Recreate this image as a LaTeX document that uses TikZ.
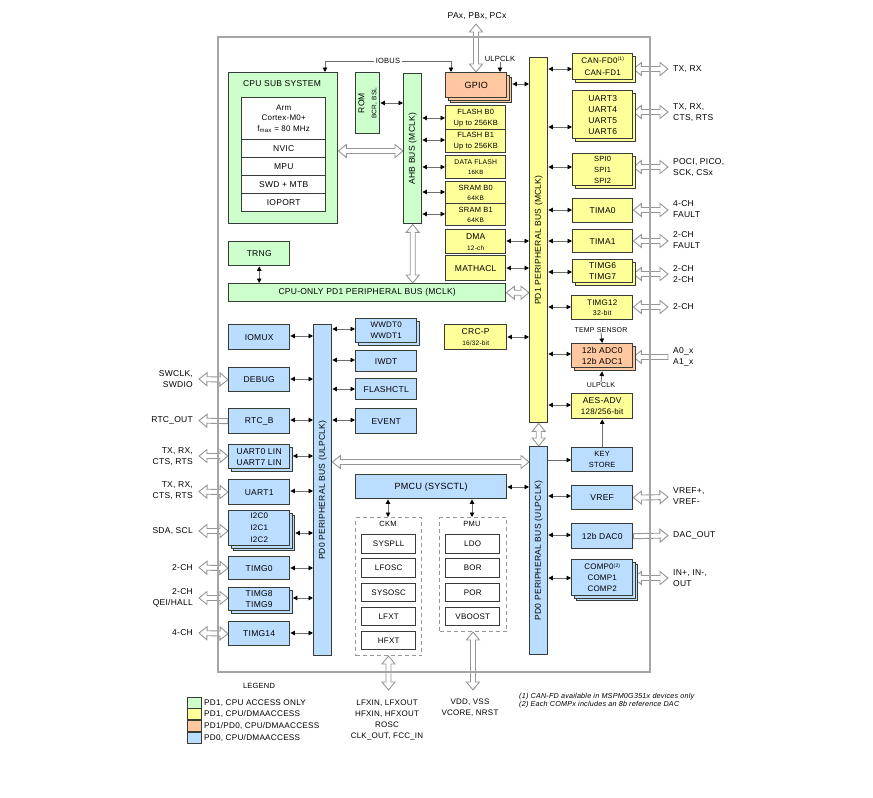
\documentclass[tikz,border=0pt]{standalone}
\usepackage{fontspec}
\setmainfont[LetterSpace=3]{Liberation Sans}
\usetikzlibrary{arrows.meta,shadows,calc}
\pgfdeclarelayer{bg}
\pgfdeclarelayer{fg}
\pgfsetlayers{bg,main,fg}
\definecolor{cgreen}{RGB}{204,255,204}
\definecolor{cyellow}{RGB}{255,255,153}
\definecolor{corange}{RGB}{255,200,160}
\definecolor{cblue}{RGB}{187,221,255}
\definecolor{cedge}{RGB}{55,60,55}
\definecolor{cframe}{RGB}{165,165,165}
\definecolor{chol}{RGB}{150,150,150}
\definecolor{cline}{RGB}{110,110,110}
\newcommand\szA{\fontsize{7.5}{9}\selectfont}
\newcommand\szB{\fontsize{7}{8}\selectfont}
\newcommand\szC{\fontsize{6.5}{7.5}\selectfont}
\newcommand\szD{\fontsize{6}{7}\selectfont}
\newcommand\supn[1]{\raisebox{0.7ex}{\fontsize{5}{5}\selectfont #1}}
\def\hhl{8pt}\def\hhw{6.5pt}\def\hsw{2.5pt}
\newcommand\mkbox[7]{\node[#1,anchor=north west,minimum width={#5-#3},minimum height={#6-#4}] (#2) at (#3,#4) {#7};}
\newcommand\hcon[4]{\coordinate (cA) at (#1 |- 0,#3);\coordinate (cB) at (#2 |- 0,#3);\draw[conn] ($(cA)+(#4,0)$) -- (cB);}
\newcommand\hollowB[2]{\coordinate (hA) at (#1);\coordinate (hB) at (#2);
\draw[hollowarr] (hA) -- ($(hA)!\hhl!(hB)!\hhw!90:(hB)$) -- ($(hA)!\hhl!(hB)!\hsw!90:(hB)$) -- ($(hB)!\hhl!(hA)!\hsw!-90:(hA)$) -- ($(hB)!\hhl!(hA)!\hhw!-90:(hA)$) -- (hB) -- ($(hB)!\hhl!(hA)!\hhw!90:(hA)$) -- ($(hB)!\hhl!(hA)!\hsw!90:(hA)$) -- ($(hA)!\hhl!(hB)!\hsw!-90:(hB)$) -- ($(hA)!\hhl!(hB)!\hhw!-90:(hB)$) -- cycle;}
\newcommand\hollowS[2]{\coordinate (hA) at (#1);\coordinate (hB) at (#2);
\draw[hollowarr] ($(hA)!\hsw!90:(hB)$) -- ($(hB)!\hhl!(hA)!\hsw!-90:(hA)$) -- ($(hB)!\hhl!(hA)!\hhw!-90:(hA)$) -- (hB) -- ($(hB)!\hhl!(hA)!\hhw!90:(hA)$) -- ($(hB)!\hhl!(hA)!\hsw!90:(hA)$) -- ($(hA)!\hsw!-90:(hB)$) -- cycle;}
\tikzset{
 blk/.style={draw=cedge,line width=1.4pt,inner sep=0pt,align=center,font=\fontsize{8.5}{11}\selectfont},
 gblk/.style={blk,fill=cgreen},
 yblk/.style={blk,fill=cyellow},
 oblk/.style={blk,fill=corange},
 bblk/.style={blk,fill=cblue},
 wblk/.style={blk,fill=white},
 stackA/.style={copy shadow={shadow xshift=2.5pt,shadow yshift=-2.5pt}},
 stackB/.style={double copy shadow={shadow xshift=2.5pt,shadow yshift=-2.5pt}},
 conn/.style={draw=cline,line width=0.9pt,{Triangle[length=4.5pt,width=4.5pt,color=black]}-{Triangle[length=4.5pt,width=4.5pt,color=black]}},
 sarr/.style={draw=cline,line width=0.9pt,-{Triangle[length=4.5pt,width=4.5pt,color=black]}},
 hollowarr/.style={draw=chol,fill=white,line width=0.9pt,line join=miter},
 lbl/.style={font=\fontsize{8.5}{11}\selectfont,inner sep=0pt,align=left},
 buslbl/.style={font=\fontsize{8.5}{11}\selectfont,rotate=90,inner sep=0pt},
 dbox/.style={draw=chol,dash pattern=on 4pt off 3pt,line width=1pt},
 outerframe/.style={draw=cframe,line width=1.5pt},
}
\begin{document}
\begin{tikzpicture}[x=1pt,y=-1pt]
\useasboundingbox (0,0) rectangle (873,798);

% ---------- PD1 CPU-only (green)
\node[lbl] (pax) at (477,16) {PAx, PBx, PCx};
\mkbox{gblk}{cpu}{228}{72}{337}{223}{}
\node[lbl] (cputitle) at (282,84) {CPU SUB SYSTEM};
\mkbox{wblk,font={\fontsize{8}{10.5}\selectfont}}{arm}{241}{97}{325}{139}{Arm\\Cortex-M0+\\f\textsubscript{max} = 80 MHz}
\mkbox{wblk}{nvic}{241}{139}{325}{157}{NVIC}
\mkbox{wblk}{mpu}{241}{157}{325}{175}{MPU}
\mkbox{wblk}{swd}{241}{175}{325}{193}{SWD + MTB}
\mkbox{wblk}{ioport}{241}{193}{325}{211}{IOPORT}
\mkbox{gblk}{rom}{355}{72}{379}{133}{}
\node[buslbl,align=center,font={\fontsize{8.5}{12}\selectfont}] (romlbl) at (rom.center) {ROM\\{\szC BCR, BSL}};
\mkbox{gblk}{ahb}{403}{73}{421}{223}{}
\node[buslbl] (ahblbl) at (ahb.center) {AHB BUS (MCLK)};
\mkbox{gblk}{trng}{228}{241}{289}{265}{TRNG}
\mkbox{gblk}{cpubus}{228}{283}{505}{301}{CPU-ONLY PD1 PERIPHERAL BUS (MCLK)}

% ---------- GPIO and memories
\mkbox{oblk,stackB}{gpio}{445}{72}{506}{97}{\fontsize{9}{11}\selectfont GPIO}
\node[lbl,fill=white,inner sep=2pt] (iobus) at (388,61) {\szA IOBUS};
\coordinate (cpuin) at (cpu.north -| 325,0);
\coordinate (gpioin) at (gpio.north -| 451,0);
\draw[sarr] (iobus.west) -| (cpuin);
\draw[sarr] (iobus.east) -| (gpioin);
\node[lbl] (ulpa) at (500,59) {\szA ULPCLK};
\draw[sarr] (ulpa.south) -- (ulpa.south |- gpio.north);

\mkbox{yblk}{flasha}{445}{105}{505}{129}{{\szA FLASH B0}\\{\fontsize{7.5}{8}\selectfont Up to 256KB}}
\mkbox{yblk}{flashb}{445}{129}{505}{152}{{\szA FLASH B1}\\{\fontsize{7.5}{8}\selectfont Up to 256KB}}
\mkbox{yblk,font={\fontsize{6.8}{9.5}\selectfont}}{dflash}{445}{155}{505}{178}{DATA FLASH\\{\szD 16KB}}
\mkbox{yblk,font={\fontsize{7.5}{10}\selectfont}}{srama}{445}{181}{505}{203}{SRAM B0\\{\szC 64KB}}
\mkbox{yblk,font={\fontsize{7.5}{10}\selectfont}}{sramb}{445}{203}{505}{225}{SRAM B1\\{\szC 64KB}}
\mkbox{yblk}{dma}{445}{229}{505}{253}{DMA\\{\szC 12-ch}}
\mkbox{yblk}{mathacl}{445}{255}{505}{280}{MATHACL}
\mkbox{yblk}{pd1bus}{529}{57}{547}{422}{}
\node[buslbl] (pd1lbl) at (pd1bus.center) {PD1 PERIPHERAL BUS (MCLK)};
\mkbox{yblk}{crc}{444}{324}{506}{349}{CRC-P\\{\szC 16/32-bit}}

% ---------- right column
\mkbox{yblk,stackA,font={\fontsize{8}{12}\selectfont}}{can}{572}{53}{632}{79}{CAN-FD0\supn{(1)}\\CAN-FD1}
\mkbox{yblk,stackA}{uart3}{572}{90}{632}{138}{UART3\\UART4\\UART5\\UART6}
\mkbox{yblk,stackA,font={\fontsize{7.5}{11}\selectfont}}{spi}{572}{153}{632}{185}{SPI0\\SPI1\\SPI2}
\mkbox{yblk}{tima0}{572}{198}{632}{222}{TIMA0}
\mkbox{yblk}{tima1}{572}{229}{632}{252}{TIMA1}
\mkbox{yblk,stackA,font={\fontsize{8.5}{10.5}\selectfont}}{timg6}{572}{259}{632}{282}{TIMG6\\TIMG7}
\mkbox{yblk,font={\fontsize{8}{10.5}\selectfont}}{timg12}{571}{295}{632}{319}{TIMG12\\{\szB 32-bit}}
\node[lbl] (temp) at (601,330) {\szB TEMP SENSOR};
\mkbox{oblk,stackA}{adc}{571}{343}{632}{367}{12b ADC0\\12b ADC1}
\node[lbl] (ulpb) at (601,385) {\szB ULPCLK};
\mkbox{yblk,font={\fontsize{8.5}{11}\selectfont}}{aes}{571}{393}{632}{418}{AES-ADV\\{\fontsize{8}{9}\selectfont 128/256-bit}}
\draw[sarr] (temp.south) -- (adc.north);
\draw[sarr] (ulpb.north) -- ($(adc.south)+(0,3)$);

\mkbox{bblk}{pd0busR}{529}{446}{547}{654}{}
\node[buslbl] (pd0rlbl) at (pd0busR.center) {PD0 PERIPHERAL BUS (ULPCLK)};
\mkbox{bblk,font={\fontsize{7.5}{11}\selectfont}}{keystore}{571}{447}{632}{471}{KEY\\STORE}
\mkbox{bblk}{vref}{571}{485}{632}{509}{VREF}
\mkbox{bblk}{dac}{571}{523}{632}{548}{12b DAC0}
\mkbox{bblk,stackB,font={\fontsize{8}{11}\selectfont}}{comp}{571}{559}{632}{595}{COMP0\supn{(2)}\\COMP1\\COMP2}
\draw[sarr] (keystore.north) -- (aes.south);
\draw[sarr] (pd0busR.east |- 0,460) -- (keystore.west |- 0,460);

% ---------- left column
\mkbox{bblk}{pd0busL}{313}{324}{331}{655}{}
\node[buslbl] (pd0llbl) at (pd0busL.center) {PD0 PERIPHERAL BUS (ULPCLK)};
\mkbox{bblk}{iomux}{228}{324}{289}{349}{IOMUX}
\mkbox{bblk}{debug}{228}{367}{289}{391}{DEBUG}
\mkbox{bblk}{rtc}{228}{408}{289}{433}{RTC\_B}
\mkbox{bblk,stackA}{uart0}{228}{444}{289}{468}{UART0 LIN\\UART7 LIN}
\mkbox{bblk}{uart1}{228}{479}{289}{504}{UART1}
\mkbox{bblk,stackB,font={\fontsize{8}{12}\selectfont}}{i2c}{228}{510}{289}{545}{I2C0\\I2C1\\I2C2}
\mkbox{bblk}{timg0}{228}{556}{289}{579}{TIMG0}
\mkbox{bblk,stackA,font={\fontsize{8.5}{10.5}\selectfont}}{timg8}{228}{587}{289}{610}{TIMG8\\TIMG9}
\mkbox{bblk}{timg14}{228}{621}{289}{645}{TIMG14}
\mkbox{bblk,stackA,font={\fontsize{8}{11}\selectfont}}{wwdt}{355}{318}{416}{342}{WWDT0\\WWDT1}
\mkbox{bblk}{iwdt}{355}{350}{416}{371}{IWDT}
\mkbox{bblk}{flashctl}{355}{378}{416}{399}{FLASHCTL}
\mkbox{bblk}{event}{355}{408}{416}{433}{EVENT}
\mkbox{bblk}{pmcu}{355}{474}{506}{498}{\fontsize{9}{11}\selectfont PMCU (SYSCTL)}

% ---------- CKM / PMU
\mkbox{dbox}{ckm}{355}{517}{421}{655}{}
\node[lbl] (ckmlbl) at (388,524) {\szA CKM};
\mkbox{wblk,font={\fontsize{8}{10}\selectfont}}{syspll}{361}{534}{415}{553}{SYSPLL}
\mkbox{wblk,font={\fontsize{8}{10}\selectfont}}{lfosc}{361}{558}{415}{577}{LFOSC}
\mkbox{wblk,font={\fontsize{8}{10}\selectfont}}{sysosc}{361}{583}{415}{601}{SYSOSC}
\mkbox{wblk,font={\fontsize{8}{10}\selectfont}}{lfxt}{361}{607}{415}{625}{LFXT}
\mkbox{wblk,font={\fontsize{8}{10}\selectfont}}{hfxt}{361}{631}{415}{649}{HFXT}
\mkbox{dbox}{pmu}{439}{517}{506}{631}{}
\node[lbl] (pmulbl) at (472,524) {\szA PMU};
\mkbox{wblk,font={\fontsize{8}{10}\selectfont}}{ldo}{445}{534}{499}{553}{LDO}
\mkbox{wblk,font={\fontsize{8}{10}\selectfont}}{bor}{445}{558}{499}{577}{BOR}
\mkbox{wblk,font={\fontsize{8}{10}\selectfont}}{por}{445}{583}{499}{601}{POR}
\mkbox{wblk,font={\fontsize{8}{10}\selectfont}}{vboost}{445}{607}{499}{625}{VBOOST}
\draw[conn] (pmcu.south -| 388,0) -- (ckm.north -| 388,0);
\draw[conn] (pmcu.south -| 472,0) -- (pmu.north -| 472,0);

% ---------- small connectors
\hcon{rom.east}{ahb.west}{103}{0}
\hcon{ahb.east}{flasha.west}{118}{0}
\hcon{ahb.east}{flashb.west}{140}{0}
\hcon{ahb.east}{dflash.west}{167}{0}
\hcon{ahb.east}{srama.west}{192}{0}
\hcon{ahb.east}{sramb.west}{214}{0}
\hcon{gpio.east}{pd1bus.west}{84}{5}
\hcon{dma.east}{pd1bus.west}{241}{0}
\hcon{mathacl.east}{pd1bus.west}{268}{0}
\hcon{crc.east}{pd1bus.west}{337}{0}
\hcon{pd1bus.east}{can.west}{69}{0}
\hcon{pd1bus.east}{uart3.west}{127}{0}
\hcon{pd1bus.east}{spi.west}{167}{0}
\hcon{pd1bus.east}{tima0.west}{210}{0}
\hcon{pd1bus.east}{tima1.west}{241}{0}
\hcon{pd1bus.east}{timg6.west}{272}{0}
\hcon{pd1bus.east}{timg12.west}{307}{0}
\hcon{pd1bus.east}{adc.west}{354}{0}
\hcon{pd1bus.east}{aes.west}{405}{0}
\draw[conn] (trng.south) -- (trng.south |- cpubus.north);
\hcon{iomux.east}{pd0busL.west}{336}{0}
\hcon{debug.east}{pd0busL.west}{379}{0}
\hcon{rtc.east}{pd0busL.west}{420}{0}
\hcon{uart0.east}{pd0busL.west}{456}{2.5}
\hcon{uart1.east}{pd0busL.west}{491}{0}
\hcon{i2c.east}{pd0busL.west}{533}{5}
\hcon{timg0.east}{pd0busL.west}{568}{0}
\hcon{timg8.east}{pd0busL.west}{598}{2.5}
\hcon{timg14.east}{pd0busL.west}{633}{0}
\hcon{pd0busL.east}{wwdt.west}{329}{0}
\hcon{pd0busL.east}{iwdt.west}{360}{0}
\hcon{pd0busL.east}{flashctl.west}{389}{0}
\hcon{pd0busL.east}{event.west}{420}{0}
\hcon{pmcu.east}{pd0busR.west}{487}{0}
\hcon{pd0busR.east}{vref.west}{496}{0}
\hcon{pd0busR.east}{dac.west}{535}{0}
\hcon{pd0busR.east}{comp.west}{578}{0}

% ---------- outside labels
\node[lbl,anchor=west] (r1) at (673,69) {TX, RX};
\node[lbl,anchor=west] (r2) at (673,113) {TX, RX,\\CTS, RTS};
\node[lbl,anchor=west] (r3) at (673,168) {POCI, PICO,\\SCK, CSx};
\node[lbl,anchor=west] (r4) at (673,209) {4-CH\\FAULT};
\node[lbl,anchor=west] (r5) at (673,240) {2-CH\\FAULT};
\node[lbl,anchor=west] (r6) at (673,274) {2-CH\\2-CH};
\node[lbl,anchor=west] (r7) at (673,307) {2-CH};
\node[lbl,anchor=west] (r8) at (673,357) {A0\_x\\A1\_x};
\node[lbl,anchor=west] (r9) at (673,496) {VREF+,\\VREF-};
\node[lbl,anchor=west] (r10) at (673,535) {DAC\_OUT};
\node[lbl,anchor=west] (r11) at (673,578) {IN+, IN-,\\OUT};
\node[lbl,anchor=east,align=right] (l1) at (193,379) {SWCLK,\\SWDIO};
\node[lbl,anchor=east,align=right] (l2) at (193,420) {RTC\_OUT};
\node[lbl,anchor=east,align=right] (l3) at (193,457) {TX, RX,\\CTS, RTS};
\node[lbl,anchor=east,align=right] (l4) at (193,491) {TX, RX,\\CTS, RTS};
\node[lbl,anchor=east,align=right] (l5) at (193,531) {SDA, SCL};
\node[lbl,anchor=east,align=right] (l6) at (193,568) {2-CH};
\node[lbl,anchor=east,align=right] (l7) at (193,598) {2-CH\\QEI/HALL};
\node[lbl,anchor=east,align=right] (l8) at (193,633) {4-CH};
\node[lbl,align=center,font={\fontsize{8}{11.2}\selectfont}] (ckmout) at (387,720) {LFXIN, LFXOUT\\HFXIN, HFXOUT\\ROSC\\CLK\_OUT, FCC\_IN};
\node[lbl,align=center,font={\fontsize{8}{11}\selectfont}] (pmuout) at (470,708) {VDD, VSS\\VCORE, NRST};

% ---------- legend and notes
\node[lbl] (legend) at (259,686) {\szA LEGEND};
\mkbox{gblk}{lga}{187}{697}{201}{708}{}
\mkbox{yblk}{lgb}{187}{708}{201}{719}{}
\mkbox{oblk}{lgc}{187}{720}{201}{731}{}
\mkbox{bblk}{lgd}{187}{732}{201}{743}{}
\node[lbl,anchor=west,font={\fontsize{8.2}{9}\selectfont}] (lta) at (204,703) {PD1, CPU ACCESS ONLY};
\node[lbl,anchor=west,font={\fontsize{8.2}{9}\selectfont}] (ltb) at (204,714) {PD1, CPU/DMAACCESS};
\node[lbl,anchor=west,font={\fontsize{8.2}{9}\selectfont}] (ltc) at (204,726) {PD1/PD0, CPU/DMAACCESS};
\node[lbl,anchor=west,font={\fontsize{8.2}{9}\selectfont}] (ltd) at (204,738) {PD0, CPU/DMAACCESS};
\node[lbl,anchor=north west,font={\fontsize{7.2}{8}\selectfont\itshape}] (notes) at (519,693) {(1) CAN-FD available in MSPM0G351x devices only\\(2) Each COMPx includes an 8b reference DAC};

% ---------- hollow arrows
\begin{pgfonlayer}{bg}
\hollowB{476,24}{gpio.north -| 476,0}
\hollowB{cpu.east |- 0,151}{ahb.west |- 0,151}
\hollowB{ahb.south}{ahb.south |- cpubus.north}
\hollowB{cpubus.east}{cpubus.east -| pd1bus.west}
\hollowB{pd1bus.south}{pd0busR.north}
\hollowB{pd0busL.east |- 0,462}{pd0busR.west |- 0,462}
\hollowB{ckm.south}{ckm.south |- 0,690}
\hollowB{pmu.south}{pmu.south |- 0,690}
\hollowB{can.east |- 0,69}{668,69}
\hollowB{uart3.east |- 0,112}{668,112}
\hollowB{spi.east |- 0,167}{668,167}
\hollowB{tima0.east |- 0,210}{668,210}
\hollowB{tima1.east |- 0,241}{668,241}
\hollowB{timg6.east |- 0,274}{668,274}
\hollowB{timg12.east |- 0,307}{668,307}
\hollowS{668,357}{adc.east |- 0,357}
\hollowB{vref.east}{668,497}
\hollowS{dac.east}{668,535.5}
\hollowB{comp.east |- 0,578}{668,578}
\hollowB{199,379}{debug.west}
\hollowS{rtc.west}{199,420.5}
\hollowB{199,456}{uart0.west |- 0,456}
\hollowB{199,491.5}{uart1.west}
\hollowB{199,531}{i2c.west |- 0,531}
\hollowB{199,567.5}{timg0.west}
\hollowB{199,598}{timg8.west |- 0,598}
\hollowB{199,633}{timg14.west}
\end{pgfonlayer}
\begin{pgfonlayer}{fg}
\draw[outerframe] (218,37) rectangle (650,672);
\end{pgfonlayer}
\end{tikzpicture}
\end{document}
